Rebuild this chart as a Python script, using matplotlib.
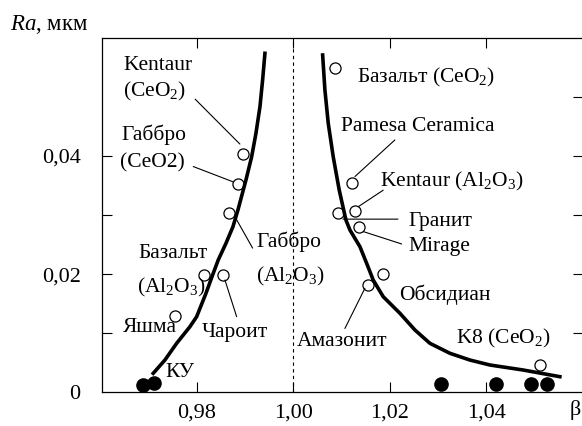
import numpy as np
import matplotlib
matplotlib.use("Agg")
import matplotlib.pyplot as plt
from matplotlib.ticker import FixedLocator, FixedFormatter

plt.rcParams['font.family'] = ['Liberation Serif', 'DejaVu Serif']
plt.rcParams['mathtext.fontset'] = 'custom'
plt.rcParams['mathtext.rm'] = 'Liberation Serif'
plt.rcParams['mathtext.it'] = 'Liberation Serif:italic'

# open circles: materials (beta, Ra)
open_beta = [0.98966, 0.98861, 0.98675, 0.98157, 0.98538, 0.97551,
             1.00863, 1.01209, 1.01277, 1.00932, 1.01366, 1.01851, 1.01553, 1.05108]
open_ra = [0.0404, 0.0352, 0.0303, 0.0198, 0.0198, 0.0129,
           0.0548, 0.0354, 0.0306, 0.0303, 0.0280, 0.0200, 0.0182, 0.0046]

# filled circles
fill_beta = [0.9688, 0.9712, 1.0307, 1.0420, 1.0492, 1.0526]
fill_ra = [0.0013, 0.0016, 0.0014, 0.0014, 0.0014, 0.0014]

# fitted curves
left_beta = [0.97101, 0.97344, 0.97586, 0.97861, 0.98000, 0.98193, 0.98331, 0.98447,
             0.98607, 0.98752, 0.98855, 0.99021, 0.99139, 0.99228, 0.99311, 0.99366, 0.99414]
left_ra = [0.00321, 0.00547, 0.00829, 0.01110, 0.01279, 0.01675, 0.01985, 0.02239,
           0.02521, 0.02802, 0.03085, 0.03592, 0.03986, 0.04382, 0.04832, 0.05284, 0.05736]
right_beta = [1.00609, 1.00656, 1.00725, 1.00828, 1.00952, 1.01091, 1.01174, 1.01381,
              1.01520, 1.01656, 1.01863, 1.02209, 1.02520, 1.02830, 1.03244, 1.03658,
              1.04072, 1.04762, 1.05521]
right_ra = [0.05707, 0.05115, 0.04552, 0.03986, 0.03423, 0.02915, 0.02746, 0.02464,
            0.02183, 0.01900, 0.01618, 0.01337, 0.01054, 0.00829, 0.00660, 0.00546,
            0.00462, 0.00377, 0.00264]

# labels: text, beta, Ra (baseline-left)
labels = [
    ("Kentaur", 0.96474, 0.0545), ("(CeO$_2$)", 0.96474, 0.0501),
    ("Габбро", 0.96453, 0.0427), ("(CeO2)", 0.96412, 0.0380),
    ("Базальт", 0.96785, 0.0227), ("(Al$_2$O$_3$)", 0.96764, 0.0169),
    ("Яшма", 0.96474, 0.0102), ("Чароит", 0.98110, 0.0094),
    ("КУ", 0.97364, 0.0026),
    ("Габбро", 0.99228, 0.0246), ("(Al$_2$O$_3$)", 0.99228, 0.0188),
    ("Базальт (CeO$_2$)", 1.01317, 0.0525),
    ("Pamesa Ceramica", 1.00986, 0.0442),
    ("Kentaur (Al$_2$O$_3$)", 1.01793, 0.0349),
    ("Гранит", 1.02393, 0.0281), ("Mirage", 1.02393, 0.0239),
    ("Обсидиан", 1.02189, 0.0156), ("Амазонит", 1.00077, 0.0079),
    ("K8 (CeO$_2$)", 1.03368, 0.0082),
]

# leader lines: (start, end)
leaders = [
    ((0.97969, 0.0496), (0.98896, 0.0420)),
    ((0.97930, 0.0382), (0.98758, 0.0356)),
    ((0.99159, 0.0244), (0.98828, 0.0292)),
    ((0.98828, 0.0128), (0.98586, 0.0190)),
    ((1.02105, 0.0427), (1.01277, 0.0365)),
    ((1.01863, 0.0342), (1.01346, 0.0314)),
    ((1.02168, 0.0293), (1.01030, 0.0293)),
    ((1.02244, 0.0251), (1.01449, 0.0272)),
    ((1.01070, 0.0108), (1.01484, 0.0176)),
]

fig = plt.figure(figsize=(5.82, 4.26), dpi=100)
ax = fig.add_axes([101.5 / 582, 33.7 / 426, 481.5 / 582, 354.6 / 426])

ax.axvline(1.0, color='k', lw=0.8, ls=(0, (3, 3)))
ax.plot(open_beta, open_ra, 'o', ms=8, mfc='white', mec='k', mew=0.9, zorder=3)
ax.plot(fill_beta, fill_ra, 'o', ms=9.5, color='k', zorder=3)
ax.plot(left_beta, left_ra, color='k', lw=2.6, zorder=4, solid_joinstyle='round')
ax.plot(right_beta, right_ra, color='k', lw=2.6, zorder=4, solid_joinstyle='round')

for s, e in leaders:
    ax.annotate('', xy=e, xytext=s,
                arrowprops=dict(arrowstyle='-', lw=0.8, color='k', shrinkA=0, shrinkB=0))

for t, bx, ry in labels:
    ax.text(bx, ry, t, fontsize=15.5, va='baseline', ha='left')

ax.text(1.05729, -0.0038, "β", fontsize=16, va='baseline', ha='left', clip_on=False)
ax.text(0.94134, 0.0613, "$\\mathit{Ra}$, мкм", fontsize=16.5, va='baseline', ha='left', clip_on=False)

ax.set_xlim(0.9603, 1.06)
ax.set_ylim(0, 0.06)
ax.xaxis.set_major_locator(FixedLocator([0.98, 1.00, 1.02, 1.04]))
ax.xaxis.set_major_formatter(FixedFormatter(["0,98", "1,00", "1,02", "1,04"]))
ax.yaxis.set_major_locator(FixedLocator([0, 0.01, 0.02, 0.03, 0.04, 0.05]))
ax.yaxis.set_major_formatter(FixedFormatter(["0", "", "0,02", "", "0,04", ""]))
ax.tick_params(direction='in', length=7, width=0.8, top=True, right=True, labelsize=16)
ax.tick_params(axis='y', pad=15)
ax.tick_params(axis='x', pad=8)
ax.yaxis.get_major_ticks()[5].tick1line.set_visible(False)
ax.yaxis.get_major_ticks()[0].tick1line.set_visible(False)
ax.yaxis.get_major_ticks()[0].tick2line.set_visible(False)
for sp in ax.spines.values():
    sp.set_linewidth(0.9)
ax.spines['right'].set_visible(False)

fig.savefig("out.png", dpi=100)
